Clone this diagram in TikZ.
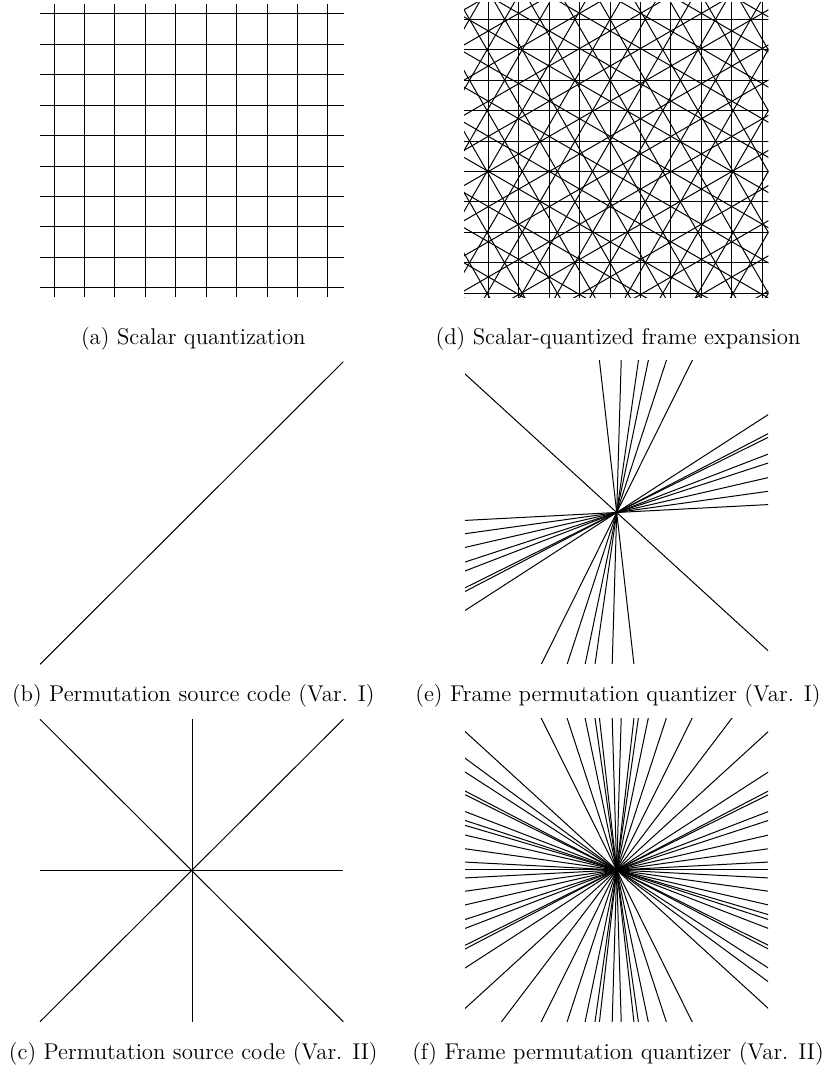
\documentclass[tikz,border=0pt]{standalone}
\usepackage{fontspec}
\begin{document}
\begin{tikzpicture}[x=0.5pt,y=0.5pt,
  ln/.style={line width=0.5pt, black},
  captxt/.style={anchor=base, inner sep=0pt, font=\fontsize{11.4}{13}\selectfont}]
\useasboundingbox (0,0) rectangle (827,1071);
% (a) scalar quantization
\foreach \k in {0,...,9}{
  \draw[ln] ({54+30.44*\k},774) -- ({54+30.44*\k},1067);
  \draw[ln] (40,{1057-30.41*\k}) -- (344,{1057-30.41*\k});
}
% (b) permutation source code var I
\draw[ln] (40,406.7) -- (343.3,709.3);
% (c) permutation source code var II
\draw[ln] (40,200.5) -- (343.3,200.5);
\draw[ln] (192,49.3) -- (192,351.7);
\draw[ln] (40,351.7) -- (343.3,49.3);
\draw[ln] (40,49.3) -- (343.3,351.7);
% (d) scalar-quantized frame expansion
\begin{scope}
\clip (464,773) rectangle (768.3,1068);
\foreach \ang/\oo in {0/0,90/0,60/0,120/0,30/0.5,150/0.5}{
  \foreach \k in {-9,...,9}{
    \pgfmathsetmacro{\cv}{(\k+\oo)*30.44}
    \draw[ln] ({610.1+\cv*cos(\ang)-400*sin(\ang)},{899.5+\cv*sin(\ang)+400*cos(\ang)})
      -- ({610.1+\cv*cos(\ang)+400*sin(\ang)},{899.5+\cv*sin(\ang)-400*cos(\ang)});
  }
}
\end{scope}
% (e) frame permutation quantizer var I
\begin{scope}
\clip (465.2,407) rectangle (768.2,710);
\foreach \t in {2.99,7.97,12.97,18.09,21.08,26.4,27.51,32.87,63.57,71.91,78.25,81.87,88.3,96.48,137.6}{
  \draw[ln] ({616.7-300*cos(\t)},{558.5-300*sin(\t)}) -- ({616.7+300*cos(\t)},{558.5+300*sin(\t)});
}
\end{scope}
% (f) frame permutation quantizer var II
\begin{scope}
\clip (465.2,49) rectangle (768.2,352);
\foreach \t in {2.99,7.97,12.97,18.09,21.08,26.4,27.51,32.87,63.57,71.91,78.25,81.87,88.3,96.48,137.6,
  177.01,172.03,167.03,161.91,158.92,153.6,152.49,147.13,116.43,108.09,101.75,98.13,91.7,83.52,42.4,
  0,143.6,52.8,163.6}{
  \draw[ln] ({616.7-300*cos(\t)},{201-300*sin(\t)}) -- ({616.7+300*cos(\t)},{201+300*sin(\t)});
}
\end{scope}
% captions
\node[captxt] (capA) at (193.3,726.5) {(a) Scalar quantization};
\node[captxt] (capB) at (193.3,369) {(b) Permutation source code (Var. I)};
\node[captxt] (capC) at (193.3,11.4) {(c) Permutation source code (Var. II)};
\node[captxt] (capD) at (618,726.5) {(d) Scalar-quantized frame expansion};
\node[captxt] (capE) at (618,369) {(e) Frame permutation quantizer (Var. I)};
\node[captxt] (capF) at (618,11.4) {(f) Frame permutation quantizer (Var. II)};
\end{tikzpicture}
\end{document}
